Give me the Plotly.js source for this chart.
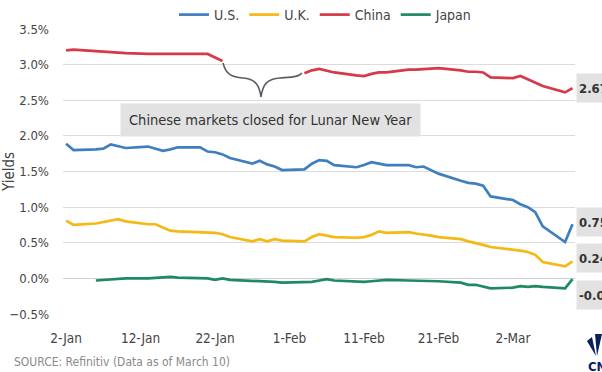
<!DOCTYPE html>
<html>
<head>
<meta charset="utf-8">
<script src="https://cdn.plot.ly/plotly-3.0.1.min.js"></script>
<style>html,body{margin:0;padding:0;background:#fff;}#chart{width:602px;height:372px;}</style>
</head>
<body>
<div id="chart"></div>
<script>
// ---- data ----
const dates = ['2020-01-02','2020-01-03','2020-01-06','2020-01-07','2020-01-08','2020-01-09','2020-01-10',
  '2020-01-13','2020-01-14','2020-01-15','2020-01-16','2020-01-17',
  '2020-01-20','2020-01-21','2020-01-22','2020-01-23','2020-01-24',
  '2020-01-27','2020-01-28','2020-01-29','2020-01-30','2020-01-31',
  '2020-02-03','2020-02-04','2020-02-05','2020-02-06','2020-02-07',
  '2020-02-10','2020-02-11','2020-02-12','2020-02-13','2020-02-14',
  '2020-02-17','2020-02-18','2020-02-19','2020-02-20','2020-02-21',
  '2020-02-24','2020-02-25','2020-02-26','2020-02-27','2020-02-28',
  '2020-03-02','2020-03-03','2020-03-04','2020-03-05','2020-03-06',
  '2020-03-09','2020-03-10'];
const usYield = [1.89,1.80,1.81,1.82,1.88,1.86,1.83,
  1.85,1.82,1.79,1.81,1.84,
  1.84,1.78,1.77,1.74,1.69,
  1.61,1.65,1.60,1.57,1.52,
  1.53,1.61,1.66,1.65,1.59,
  1.56,1.59,1.63,1.61,1.59,
  1.59,1.56,1.57,1.52,1.47,
  1.37,1.34,1.33,1.30,1.15,
  1.10,1.04,1.00,0.93,0.73,
  0.51,0.76];
const ukYield = [0.81,0.75,0.77,0.79,0.81,0.83,0.80,
  0.76,0.76,0.72,0.67,0.66,
  0.65,0.65,0.64,0.62,0.58,
  0.52,0.55,0.52,0.55,0.53,
  0.52,0.58,0.62,0.60,0.58,
  0.57,0.58,0.61,0.66,0.64,
  0.65,0.63,0.62,0.60,0.58,
  0.55,0.52,0.50,0.47,0.44,
  0.41,0.39,0.37,0.33,0.23,
  0.17,0.24];
const chinaYield = [3.20,3.21,3.19,3.18,3.18,3.17,3.16,
  3.15,3.15,3.15,3.15,3.16,
  3.16,3.15,3.10,3.05,null,
  null,null,null,null,null,
  2.88,2.92,2.94,2.91,2.89,
  2.85,2.84,2.87,2.89,2.89,
  2.93,2.93,2.94,2.95,2.95,
  2.92,2.90,2.90,2.89,2.82,
  2.81,2.84,2.79,2.74,2.70,
  2.61,2.67];
const japanYield = [null,null,-0.03,-0.02,-0.01,0.00,0.00,
  0.00,0.01,0.02,0.02,0.01,
  0.00,0.00,-0.02,0.00,-0.02,
  -0.03,-0.04,-0.04,-0.05,-0.06,
  -0.06,-0.05,-0.03,-0.01,-0.03,
  -0.05,-0.05,-0.04,-0.03,-0.02,
  -0.03,-0.03,-0.04,-0.03,-0.04,
  -0.06,-0.09,-0.09,-0.11,-0.14,
  -0.13,-0.11,-0.12,-0.11,-0.12,
  -0.14,-0.01];
const seriesNames = ['U.S.','U.K.','China','Japan'];
const tickDates = ['2020-01-02','2020-01-12','2020-01-22','2020-02-01','2020-02-11','2020-02-21','2020-03-02'];
const tickLabels = ['2-Jan','12-Jan','22-Jan','1-Feb','11-Feb','21-Feb','2-Mar'];
const endLabels = ['2.67%','0.75%','0.24%','-0.01%'];
const noteText = 'Chinese markets closed for Lunar New Year';
const sourceText = 'SOURCE: Refinitiv (Data as of March 10)';

// ---- layout helpers ----
const W = 602, H = 372, L = 63, R = 575, T = 29, B = 314;
const px = x => (x - L) / (R - L);
const py = y => (B - y) / (B - T);
const FONT = 'DejaVu Sans Condensed, Liberation Sans Narrow, Open Sans, sans-serif';
const colors = ['#3f7fc0', '#f4b915', '#d43a49', '#1f8a60'];
const ys = [usYield, ukYield, chinaYield, japanYield];

const traces = ys.map((v, i) => ({
  x: dates, y: v, name: seriesNames[i], type: 'scatter', mode: 'lines',
  line: {color: colors[i], width: 2.7}, connectgaps: false
}));

const labelY = [88, 222, 258, 295];
const annotations = endLabels.map((t, i) => ({
  xref: 'paper', yref: 'paper', x: px(576), y: py(labelY[i]), xanchor: 'left', yanchor: 'middle',
  text: '<b>' + t + '</b>', showarrow: false, bgcolor: '#e2e2e2', borderpad: 2,
  width: 48, height: 24, align: 'left', valign: 'middle',
  font: {family: FONT, size: 13, color: '#333'}
}));
annotations.push({
  xref: 'paper', yref: 'paper', x: px(270), y: py(120), xanchor: 'center', yanchor: 'middle',
  text: noteText, showarrow: false, bgcolor: '#e2e2e2', borderpad: 8,
  font: {family: FONT, size: 14.5, color: '#333'}
});
annotations.push({
  xref: 'paper', yref: 'paper', x: px(12), y: py(362), xanchor: 'left', yanchor: 'middle',
  text: sourceText, showarrow: false, font: {family: FONT, size: 12, color: '#8a8a8a'}
});
annotations.push({
  xref: 'paper', yref: 'paper', x: px(586), y: py(366), xanchor: 'left', yanchor: 'middle',
  text: '<b>CNBC</b>', showarrow: false, font: {family: FONT, size: 13, color: '#0a1f5c'}
});

function P(pts) { return pts.map(p => p[0] + ' ' + px(p[1]).toFixed(4) + ',' + py(p[2]).toFixed(4)).join(' '); }
const bracePath = P([['M',223,63],['C',226,75],['',232,77],['',243,78],['C',254,79],['',259,83],['',261,97],
  ['C',263,83],['',268,79],['',280,78],['C',292,77],['',299,77],['',302,73]]);

const shapes = [
  {type: 'path', xref: 'paper', yref: 'paper', path: bracePath, line: {color: '#5a5f66', width: 1.6}},
  {type: 'path', xref: 'paper', yref: 'paper', path: P([['M',596,356],['L',587,341],['L',592,337]]) + ' Z', fillcolor: '#0a1f5c', line: {width: 0}},
  {type: 'path', xref: 'paper', yref: 'paper', path: P([['M',597,356],['L',595,334],['L',602,334]]) + ' Z', fillcolor: '#0a1f5c', line: {width: 0}}
];

const layout = {
  width: W, height: H,
  margin: {l: L, r: W - R, t: T, b: H - B, pad: 0, autoexpand: false},
  paper_bgcolor: '#fff', plot_bgcolor: '#fff',
  font: {family: FONT, size: 14, color: '#444'},
  showlegend: true,
  legend: {orientation: 'h', x: px(174), y: py(15), xanchor: 'left', yanchor: 'middle',
    font: {family: FONT, size: 14, color: '#444'}, itemwidth: 30, tracegroupgap: 0,
    bgcolor: 'rgba(0,0,0,0)'},
  xaxis: {type: 'date', range: ['2020-01-01 14:00', '2020-03-10 08:00'],
    tickvals: tickDates, ticktext: tickLabels, showgrid: false, zeroline: false, showline: false,
    ticks: '', ticklabelstandoff: 14, tickfont: {family: FONT, size: 13.5, color: '#444'}, fixedrange: true},
  yaxis: {range: [-0.5, 3.5], dtick: 0.5, tick0: 0, tickformat: '.1f', ticksuffix: '%',
    showgrid: true, gridcolor: '#dcdcdc', gridwidth: 1, zeroline: true, zerolinecolor: '#d0d0d0', zerolinewidth: 1,
    showline: false, ticks: '', ticklabelstandoff: 13, tickfont: {family: FONT, size: 13, color: '#444'},
    title: {text: 'Yields', font: {family: FONT, size: 15, color: '#444'}, standoff: 0}, fixedrange: true},
  annotations: annotations,
  shapes: shapes,
  hovermode: false
};

Plotly.newPlot('chart', traces, layout, {displayModeBar: false, staticPlot: true});
</script>
</body>
</html>
